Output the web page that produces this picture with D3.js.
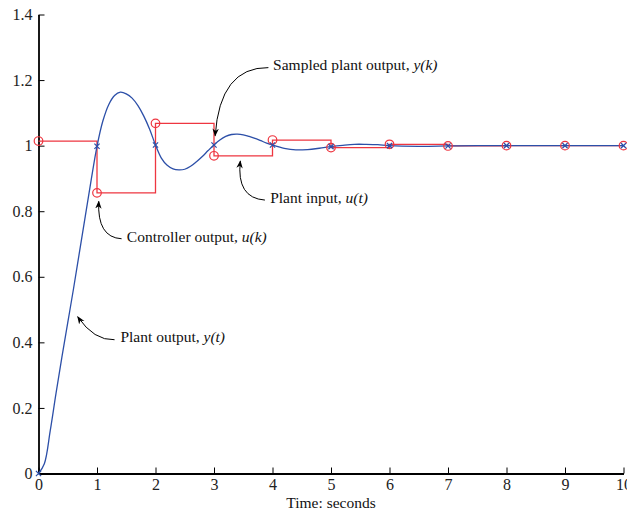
<!DOCTYPE html>
<html>
<head>
<meta charset="utf-8">
<script src="https://cdn.jsdelivr.net/npm/d3@7"></script>
<style>
    body { margin: 0; background: #fff; }
    svg { display: block; font-family: "Liberation Serif", "Times New Roman", serif; }
    .axis path, .axis line { stroke: #000; }
    .axis path { stroke-width: 1.8px; }
    .axis line { stroke-width: 1px; }
    .axis text { font-size: 16px; fill: #222; font-family: "Liberation Serif", serif; }
    .yt { fill: none; stroke: #2c4fa8; stroke-width: 1.3px; }
    .ut { fill: none; stroke: #ee3640; stroke-width: 1.3px; }
    .note { font-size: 15.5px; fill: #111; }
    .arrow { fill: none; stroke: #000; stroke-width: 1px; }
</style>
</head>
<body>
<div id="chart"></div>
<script>
const svgWidth = 627, svgHeight = 512;

// continuous plant output y(t)
const plantTime = [0, 0.1, 0.2, 0.3, 0.4, 0.5, 0.6, 0.7, 0.8, 0.9,
    1.0, 1.1, 1.2, 1.3, 1.4, 1.5, 1.6, 1.7, 1.8, 1.9,
    2.0, 2.1, 2.2, 2.3, 2.4, 2.5, 2.6, 2.7, 2.8, 2.9,
    3.0, 3.1, 3.2, 3.3, 3.4, 3.5, 3.6, 3.7, 3.8, 3.9,
    4.0, 4.2, 4.4, 4.6, 4.8, 5.0, 5.2, 5.4, 5.6, 5.8,
    6.0, 6.5, 7.0, 7.5, 8.0, 9.0, 10.0];
const plantOutput = [0, 0.03, 0.13, 0.245, 0.355, 0.46, 0.565, 0.675, 0.785, 0.895,
    0.998, 1.075, 1.125, 1.153, 1.163, 1.158, 1.145, 1.122, 1.09, 1.05,
    1.002, 0.962, 0.94, 0.929, 0.926, 0.928, 0.937, 0.951, 0.967, 0.985,
    1.002, 1.017, 1.028, 1.034, 1.035, 1.033, 1.028, 1.022, 1.015, 1.008,
    1.002, 0.992, 0.987, 0.988, 0.992, 0.997, 1.001, 1.004, 1.004, 1.003,
    1.0, 0.998, 0.999, 1.0, 1.0, 1.0, 1.0];

// sampled values at k = 0..10
const sampleK = [0, 1, 2, 3, 4, 5, 6, 7, 8, 9, 10];
const sampledOutput = [0, 0.998, 1.002, 1.002, 1.002, 0.997, 1.0, 0.999, 1.0, 1.0, 1.0];
const controllerOutput = [1.014, 0.856, 1.068, 0.969, 1.017, 0.994, 1.004, 0.999, 1.0, 1.0, 1.0];

const xTicks = [0, 1, 2, 3, 4, 5, 6, 7, 8, 9, 10];
const yTicks = [0, 0.2, 0.4, 0.6, 0.8, 1, 1.2, 1.4];

// annotations: label start, arrow tail, bend, head (all in data units)
const notes = [
    {label: "Sampled plant output, ", ital: "y(k)", tx: 4.01, ty: 1.231, from: [3.93, 1.238], via: [3.1, 1.24], to: [3.02, 1.03]},
    {label: "Plant input, ", ital: "u(t)", tx: 3.96, ty: 0.825, from: [3.87, 0.834], via: [3.38, 0.84], to: [3.45, 0.953]},
    {label: "Controller output, ", ital: "u(k)", tx: 1.51, ty: 0.707, from: [1.42, 0.716], via: [1.0, 0.72], to: [1.03, 0.83]},
    {label: "Plant output, ", ital: "y(t)", tx: 1.4, ty: 0.4, from: [1.3, 0.408], via: [0.95, 0.405], to: [0.67, 0.478]}
];

const x = d3.scaleLinear().domain([0, 10]).range([38.5, 623.5]);
const y = d3.scaleLinear().domain([0, 1.4]).range([473.5, 14.5]);

const svg = d3.select("#chart").append("svg")
    .attr("width", svgWidth)
    .attr("height", svgHeight);

svg.append("defs").append("marker")
    .attr("id", "head")
    .attr("viewBox", "0 0 10 10")
    .attr("refX", 9).attr("refY", 5)
    .attr("markerWidth", 8).attr("markerHeight", 8)
    .attr("markerUnits", "userSpaceOnUse")
    .attr("orient", "auto")
  .append("path")
    .attr("d", "M0,1 L10,5 L0,9 L3,5 Z")
    .attr("fill", "#000");

const fmt = d => d === 0 ? "0" : String(+d.toFixed(1));

svg.append("g")
    .attr("class", "x axis")
    .attr("transform", `translate(0,${y(0)})`)
    .call(d3.axisBottom(x).tickValues(xTicks).tickFormat(fmt).tickSizeInner(-6).tickSizeOuter(0).tickPadding(5));

svg.append("g")
    .attr("class", "y axis")
    .attr("transform", `translate(${x(0)},0)`)
    .call(d3.axisLeft(y).tickValues(yTicks).tickFormat(fmt).tickSizeInner(-6).tickSizeOuter(0).tickPadding(6));

svg.append("text")
    .attr("class", "note")
    .attr("x", x(5))
    .attr("y", 508)
    .attr("text-anchor", "middle")
    .text("Time: seconds");

const plantData = plantTime.map((t, i) => ({t: t, v: plantOutput[i]}));
const uData = sampleK.map((k, i) => ({t: k, v: controllerOutput[i]}));
const ykData = sampleK.map((k, i) => ({t: k, v: sampledOutput[i]}));

svg.append("path")
    .datum(uData)
    .attr("class", "ut")
    .attr("d", d3.line().x(d => x(d.t)).y(d => y(d.v)).curve(d3.curveStepAfter));

svg.append("path")
    .datum(plantData)
    .attr("class", "yt")
    .attr("d", d3.line().x(d => x(d.t)).y(d => y(d.v)).curve(d3.curveCatmullRom));

svg.selectAll(".ucirc")
    .data(uData)
    .enter().append("circle")
    .attr("class", "ucirc")
    .attr("cx", d => x(d.t))
    .attr("cy", d => y(d.v))
    .attr("r", 4.3)
    .attr("fill", "none")
    .attr("stroke", "#ee3640")
    .attr("stroke-width", 1.2);

const cross = 2.6;
svg.selectAll(".ykmark")
    .data(ykData)
    .enter().append("path")
    .attr("class", "ykmark")
    .attr("d", d => {
        const cx = x(d.t), cy = y(d.v);
        return `M${cx - cross},${cy - cross}L${cx + cross},${cy + cross}M${cx - cross},${cy + cross}L${cx + cross},${cy - cross}`;
    })
    .attr("stroke", "#2c4fa8")
    .attr("stroke-width", 1.2);

const noteG = svg.selectAll(".notes")
    .data(notes)
    .enter().append("g");

noteG.append("path")
    .attr("class", "arrow")
    .attr("marker-end", "url(#head)")
    .attr("d", d => `M${x(d.from[0])},${y(d.from[1])}Q${x(d.via[0])},${y(d.via[1])} ${x(d.to[0])},${y(d.to[1])}`);

const txt = noteG.append("text")
    .attr("class", "note")
    .attr("x", d => x(d.tx))
    .attr("y", d => y(d.ty));
txt.append("tspan").text(d => d.label);
txt.append("tspan").attr("font-style", "italic").text(d => d.ital);
</script>
</body>
</html>
